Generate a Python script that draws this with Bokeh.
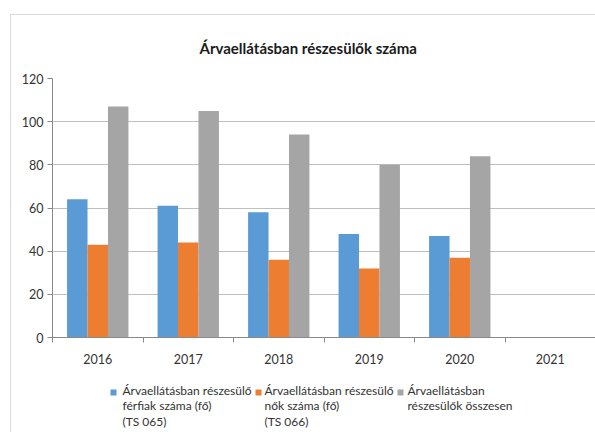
from bokeh.plotting import figure
from bokeh.layouts import column
from bokeh.models import Range1d, FixedTicker
from bokeh.core.properties import value
from bokeh.embed import file_html
from bokeh.resources import INLINE

# ---- data ----
years = ["2016", "2017", "2018", "2019", "2020", "2021"]
men = [64, 61, 58, 48, 47, float("nan")]
women = [43, 44, 36, 32, 37, float("nan")]
total = [107, 105, 94, 80, 84, float("nan")]
series_labels = [
    "Árvaellátásban részesülő\nférfiak száma (fő)\n(TS 065)",
    "Árvaellátásban részesülő\nnők száma (fő)\n(TS 066)",
    "Árvaellátásban\nrészesülők összesen",
]
colors = ["#5b9bd5", "#ed7d31", "#a5a5a5"]
title_text = "Árvaellátásban részesülők száma"
y_ticks = [0, 20, 40, 60, 80, 100, 120]

FONT = "Lato"
AX = "#898989"

p = figure(width=584, height=357, x_range=Range1d(0, 6), y_range=Range1d(0, 120),
           output_backend="svg", toolbar_location=None, title=title_text,
           min_border_left=41, min_border_right=0, min_border_top=62, min_border_bottom=35)
p.outline_line_color = None
p.background_fill_color = "white"
p.border_fill_color = "white"

p.title.align = "left"
p.title.offset = 147
p.title.standoff = 43
p.title.text_font = FONT
p.title.text_font_size = "15px"
p.title.text_font_style = "bold"
p.title.text_color = "#1a1a1a"

centers = [i + 0.5 for i in range(len(years))]
w = 0.226
for k, vals in enumerate([men, women, total]):
    xs = [c + (k - 1) * w for c in centers]
    p.vbar(x=xs, top=vals, width=w, bottom=0, fill_color=colors[k], line_color=None)

# grid
p.xgrid.visible = False
p.ygrid.ticker = FixedTicker(ticks=y_ticks)
p.ygrid.grid_line_color = "#bfbfbf"
p.ygrid.grid_line_width = 1

# x axis
xa = p.xaxis[0]
xa.ticker = FixedTicker(ticks=centers, minor_ticks=list(range(len(years) + 1)))
xa.major_label_overrides = {c: y for c, y in zip(centers, years)}
xa.major_tick_out = 0
xa.major_tick_in = 0
xa.minor_tick_out = 5
xa.minor_tick_in = 0
xa.minor_tick_line_color = AX
xa.axis_line_color = AX
xa.major_label_standoff = 11
xa.major_label_text_font = FONT
xa.major_label_text_font_size = "12.5px"
xa.major_label_text_color = "#333333"

# y axis
ya = p.yaxis[0]
ya.ticker = FixedTicker(ticks=y_ticks)
ya.major_tick_out = 5
ya.major_tick_in = 0
ya.minor_tick_out = 0
ya.minor_tick_in = 0
ya.major_tick_line_color = AX
ya.axis_line_color = AX
ya.major_label_standoff = 4
ya.major_label_text_font = FONT
ya.major_label_text_font_size = "12.5px"
ya.major_label_text_color = "#333333"

# legend strip below the chart (pixel-scaled ranges, y downwards)
lg = figure(width=584, height=60, x_range=Range1d(0, 543), y_range=Range1d(60, 0),
            output_backend="svg", toolbar_location=None,
            x_axis_location=None, y_axis_location=None,
            min_border_left=0, min_border_right=0, min_border_top=0, min_border_bottom=0)
lg.title.visible = False
lg.xgrid.visible = False
lg.ygrid.visible = False
lg.outline_line_color = None
lg.background_fill_color = "white"
lg.border_fill_color = "white"

swatch_x = [61, 206, 348]
label_x = [70, 212, 355]
lg.rect(x=swatch_x, y=[20, 20, 20], width=6, height=6, fill_color=colors, line_color=None)
lg.text(x=label_x, y=[10, 10, 10], text=series_labels, text_font=value(FONT),
        text_font_size="12px", text_color="#333333", text_align="left",
        text_baseline="top", text_line_height=1.05)

layout = column(p, lg, spacing=0)
layout.styles = {"margin-left": "10px", "margin-top": "14px",
                 "border-left": "1px solid #d9d9d9", "border-top": "1px solid #d9d9d9"}

open("out.html", "w").write(file_html(layout, INLINE))
